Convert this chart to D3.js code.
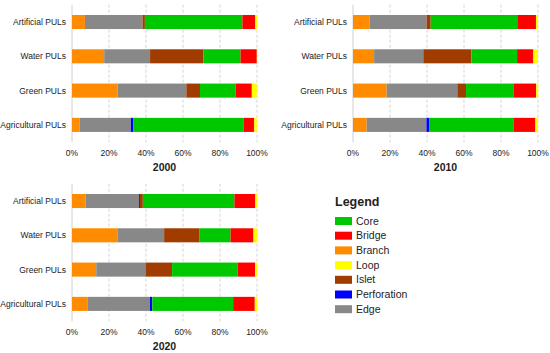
<!DOCTYPE html>
<meta charset="utf-8">
<style>
    body { margin: 0; background: #fff; }
    text { font-family: "Liberation Sans", Arial, sans-serif; fill: #222; }
    .grid line { stroke: #d4d4d4; stroke-dasharray: 3,2; }
</style>
<svg width="550" height="353"></svg>
<script src="https://d3js.org/d3.v7.min.js"></script>
<script>

var categories = ["Artificial PULs", "Water PULs", "Green PULs", "Agricultural PULs"];
// stacking order left to right
var classes = ["Branch", "Edge", "Perforation", "Islet", "Core", "Bridge", "Loop"];
var legendOrder = ["Core", "Bridge", "Branch", "Loop", "Islet", "Perforation", "Edge"];
var colors = {
    Core: "#00c800", Bridge: "#ff0000", Branch: "#ff8c00", Loop: "#ffff00",
    Islet: "#a03c00", Perforation: "#0000ff", Edge: "#888888"
};
var ticks = [0, 20, 40, 60, 80, 100];

// percentages per category, in "classes" order
var data2000 = [
    [7.0, 31.1, 0.0, 1.3, 52.7, 7.0, 0.9],
    [17.4, 24.8, 0.0, 28.8, 20.1, 8.8, 0.1],
    [24.6, 37.2, 0.0, 7.4, 19.2, 8.8, 2.7],
    [4.1, 27.7, 1.4, 0.0, 59.7, 5.6, 1.4]
];
var data2010 = [
    [9.0, 30.8, 0.0, 2.2, 46.8, 10.1, 1.1],
    [11.4, 26.6, 0.0, 26.0, 24.7, 8.8, 2.5],
    [18.2, 38.2, 0.0, 4.7, 25.6, 12.3, 1.1],
    [7.4, 32.3, 1.4, 0.0, 45.6, 11.9, 1.4]
];
var data2020 = [
    [7.4, 28.8, 0.5, 1.6, 49.5, 11.3, 0.9],
    [24.8, 25.0, 0.0, 19.2, 16.7, 12.4, 1.9],
    [13.1, 26.6, 0.0, 14.4, 35.4, 9.5, 1.0],
    [8.3, 33.8, 1.3, 0.0, 43.7, 11.7, 1.2]
];

var svg = d3.select("svg");

function drawPanel(data, title, x0, x1, y0, y1) {
    var x = d3.scaleLinear().domain([0, 100]).range([x0, x1]);
    var y = d3.scaleBand().domain(categories).range([y0, y1])
        .paddingInner(0.59).paddingOuter(0.3);

    var g = svg.append("g");

    // grid
    g.append("g").attr("class", "grid")
        .selectAll("line")
        .data(ticks.slice(1))
        .enter().append("line")
        .attr("x1", function(d) { return x(d); })
        .attr("x2", function(d) { return x(d); })
        .attr("y1", y0).attr("y2", y1);
    g.append("line")
        .attr("x1", x(0)).attr("x2", x(0))
        .attr("y1", y0).attr("y2", y1)
        .attr("stroke", "#d0d0d0");

    // bars
    categories.forEach(function(cat, i) {
        var stack = 0;
        classes.forEach(function(cls, j) {
            var v = data[i][j];
            if (v > 0) {
                g.append("rect")
                    .attr("x", x(stack))
                    .attr("y", y(cat))
                    .attr("width", x(stack + v) - x(stack))
                    .attr("height", y.bandwidth())
                    .attr("fill", colors[cls]);
            }
            stack += v;
        });
        g.append("text")
            .attr("x", x0 - 6)
            .attr("y", y(cat) + y.bandwidth() / 2)
            .attr("dy", "0.35em")
            .attr("text-anchor", "end")
            .attr("font-size", 8.5)
            .text(cat);
    });

    // tick labels
    g.selectAll("text.tick")
        .data(ticks)
        .enter().append("text")
        .attr("class", "tick")
        .attr("x", function(d) { return x(d); })
        .attr("y", y1 + 14)
        .attr("text-anchor", "middle")
        .attr("font-size", 8.5)
        .text(function(d) { return d + "%"; });

    g.append("text")
        .attr("x", (x0 + x1) / 2)
        .attr("y", y1 + 29)
        .attr("text-anchor", "middle")
        .attr("font-size", 10.5)
        .attr("font-weight", "bold")
        .text(title);
}

drawPanel(data2000, "2000", 72, 257, 4.7, 142.2);
drawPanel(data2010, "2010", 353, 538, 4.7, 142.2);
drawPanel(data2020, "2020", 72, 257, 183.7, 321.2);

// legend
var legend = svg.append("g").attr("transform", "translate(335,0)");
legend.append("text")
    .attr("x", 0).attr("y", 206)
    .attr("font-size", 12.5)
    .attr("font-weight", "bold")
    .text("Legend");
legend.selectAll("rect")
    .data(legendOrder)
    .enter().append("rect")
    .attr("x", 0)
    .attr("y", function(d, i) { return 217 + i * 14.7; })
    .attr("width", 17).attr("height", 8)
    .attr("fill", function(d) { return colors[d]; });
legend.selectAll("text.item")
    .data(legendOrder)
    .enter().append("text")
    .attr("class", "item")
    .attr("x", 21)
    .attr("y", function(d, i) { return 221 + i * 14.7; })
    .attr("dy", "0.35em")
    .attr("font-size", 10.5)
    .text(function(d) { return d; });

</script>
